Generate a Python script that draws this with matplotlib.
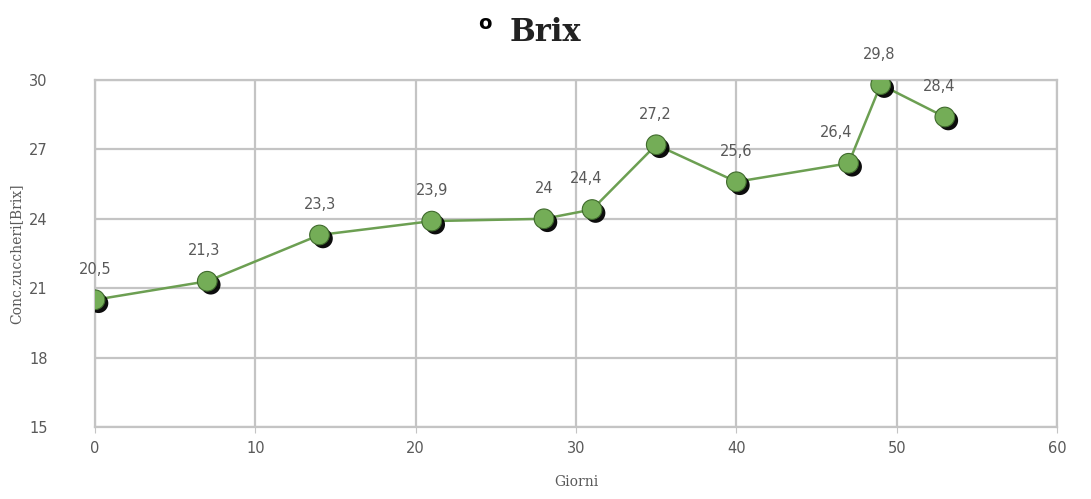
import matplotlib.pyplot as plt
import matplotlib.patheffects as pe

# Grado zuccherino nel tempo
giorni = [0, 7, 14, 21, 28, 31, 35, 40, 47, 49, 53]
brix = [20.5, 21.3, 23.3, 23.9, 24.0, 24.4, 27.2, 25.6, 26.4, 29.8, 28.4]
etichette = ["20,5", "21,3", "23,3", "23,9", "24", "24,4", "27,2", "25,6", "26,4", "29,8", "28,4"]
x_ticks = [0, 10, 20, 30, 40, 50, 60]
y_ticks = [15, 18, 21, 24, 27, 30]

# spostamento orizzontale delle etichette (punti)
dx = [0, -2, 0, 0, 0, -4, -1, 0, -9, -1, -4]

grigio = "#595959"

fig = plt.figure(figsize=(10.91, 4.99), dpi=100)
ax = fig.add_axes([0.0871, 0.1443, 0.8818, 0.6954])

ax.plot(giorni, brix, color="#6c9f52", linewidth=1.8, zorder=3)
ax.scatter(giorni, brix, s=200, color="#74ad57", edgecolors="#3f6a2c", linewidths=0.8, zorder=4,
           path_effects=[pe.SimplePatchShadow(offset=(2.5, -2.5), shadow_rgbFace="black", alpha=0.95),
                         pe.Normal()])

for x, y, t, d in zip(giorni, brix, etichette, dx):
    ax.annotate(t, (x, y), xytext=(d, 22), textcoords="offset points",
                ha="center", va="center", fontsize=10.5, color=grigio, zorder=5)

ax.set_xlim(0, 60)
ax.set_ylim(15, 30)
ax.set_xticks(x_ticks)
ax.set_yticks(y_ticks)
ax.grid(True, color="#c4c4c4", linewidth=1.6)
ax.set_axisbelow(True)
for s in ax.spines.values():
    s.set_color("#c4c4c4")
    s.set_linewidth(1.6)
ax.tick_params(axis="y", length=0, pad=34, labelsize=10.5, labelcolor=grigio)
ax.tick_params(axis="x", length=4, color="#c4c4c4", pad=6, labelsize=10.5, labelcolor=grigio)

ax.set_xlabel("Giorni", family="serif", fontsize=10, color=grigio, labelpad=14)
ax.set_ylabel("Conc.zuccheri[Brix]", family="serif", fontsize=10, color=grigio, labelpad=4)

fig.text(0.4445, 0.953, "o", fontsize=14, fontweight="bold", ha="center", va="center", color="black")
fig.text(0.5, 0.935, "Brix", family="serif", fontsize=22, fontweight="bold", ha="center", va="center",
         color="#222222")

fig.savefig("out.png", dpi=100, facecolor="white")
